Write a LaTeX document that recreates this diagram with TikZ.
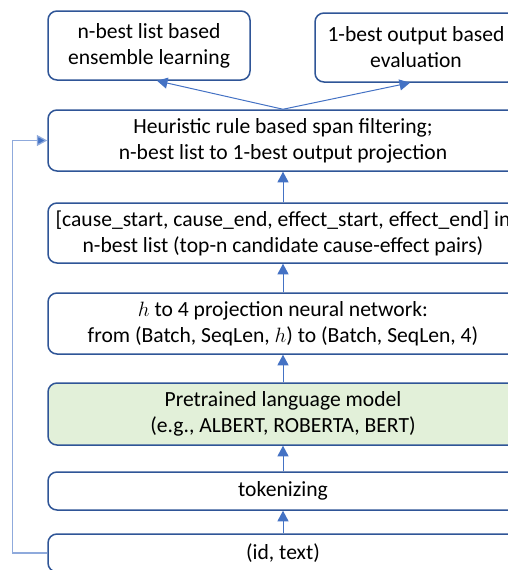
\documentclass[tikz,border=0pt]{standalone}
\usepackage{fontspec}
\setmainfont{Carlito}
\usetikzlibrary{arrows.meta}
\definecolor{bordc}{HTML}{2F5597}
\definecolor{arrc}{HTML}{4472C4}
\definecolor{fbc}{HTML}{8FAADC}
\definecolor{greenfill}{HTML}{E2F0D9}
\begin{document}
\begin{tikzpicture}[x=1pt,y=-1pt,
  boxst/.style={draw=bordc,line width=1.5pt,rounded corners=9pt,fill=white,inner sep=0pt,align=center,font=\fontsize{21.6}{26}\selectfont},
  arr/.style={draw=arrc,line width=1pt,-{Triangle[length=10.5pt,width=11pt]}},
  fb/.style={draw=fbc,line width=1.3pt,-{Triangle[length=10.5pt,width=11pt,fill=arrc]}}]
\useasboundingbox (0,0) rectangle (508,570);
\clip (0,0) rectangle (508,570);
\node[boxst,minimum width=202pt,minimum height=69pt] (nb) at (149,45.5) {n-best list based\\ensemble learning};
\node[boxst,minimum width=202pt,minimum height=69pt] (ob) at (416,47.5) {1-best output based\\evaluation};
\node[boxst,minimum width=470pt,minimum height=61pt] (heur) at (283,140.5) {Heuristic rule based span filtering;\\n-best list to 1-best output projection};
\node[boxst,minimum width=470pt,minimum height=60pt] (cause) at (283,233) {[cause\_start, cause\_end, effect\_start, effect\_end] in\\n-best list (top-n candidate cause-effect pairs)};
\node[boxst,minimum width=470pt,minimum height=61pt] (proj) at (283,323.5) {$h$ to 4 projection neural network:\\from (Batch, SeqLen, $h$) to (Batch, SeqLen, 4)};
\node[boxst,fill=greenfill,minimum width=470pt,minimum height=62pt] (plm) at (283,414) {Pretrained language model\\(e.g., ALBERT, ROBERTA, BERT)};
\node[boxst,minimum width=470pt,minimum height=38pt] (tok) at (283,491) {tokenizing};
\node[boxst,minimum width=470pt,minimum height=38pt] (idt) at (283,553) {(id, text)};
\draw[arr] (heur.north) -- ([xshift=8pt]nb.south);
\draw[arr] (heur.north) -- ([xshift=-6pt]ob.south);
\draw[arr] (cause.north) -- (heur.south);
\draw[arr] (proj.north) -- (cause.south);
\draw[arr] (plm.north) -- (proj.south);
\draw[arr] (tok.north) -- (plm.south);
\draw[arr] (idt.north) -- (tok.south);
\draw[fb] (idt.west) -- ++(-35,0) |- (heur.west);
\end{tikzpicture}
\end{document}
